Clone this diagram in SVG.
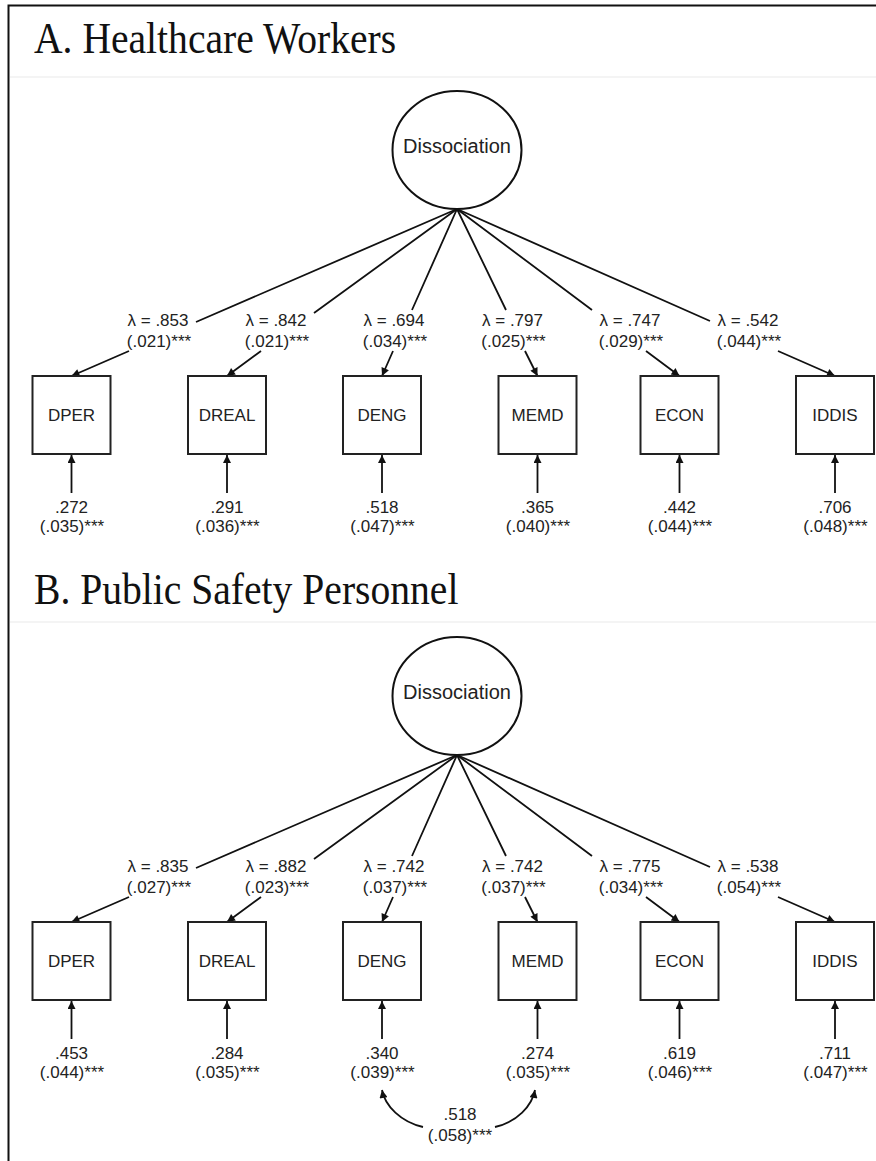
<svg xmlns="http://www.w3.org/2000/svg" width="876" height="1161" viewBox="0 0 876 1161">
<style>
.hdr{font-family:"Liberation Serif","Times New Roman",serif;font-size:44px;fill:#111}
.t{font-family:"Liberation Sans",Arial,sans-serif;font-size:17px;fill:#222;text-anchor:middle}
.lat{font-family:"Liberation Sans",Arial,sans-serif;font-size:20px;fill:#222;text-anchor:middle}
.box{fill:#fff;stroke:#222;stroke-width:2}
.ell{fill:#fff;stroke:#111;stroke-width:2}
.c{fill:none;stroke:#111;stroke-width:1.8}
.sep{stroke:#f0f0f0;stroke-width:1.5}
</style>
<defs>
<marker id="ah" viewBox="0 0 10 10" refX="10" refY="5" markerWidth="10" markerHeight="8" markerUnits="userSpaceOnUse" orient="auto-start-reverse"><path d="M0,0 L10,5 L0,10 z" fill="#111"/></marker>
</defs>
<rect width="876" height="1161" fill="#fff"/>
<path d="M8.5,1161 V5.5 H876" fill="none" stroke="#111" stroke-width="2"/>
<line class="sep" x1="10" y1="77" x2="876" y2="77"/>
<line class="sep" x1="10" y1="622" x2="876" y2="622"/>
<text class="hdr" transform="translate(34,53) scale(0.9,1)">A. Healthcare Workers</text>
<text class="hdr" transform="translate(34,604) scale(0.9,1)">B. Public Safety Personnel</text>

<g id="connectors">
<g id="connA">
<path class="c" marker-end="url(#ah)" d="M457,209 L196,322 M129,351 L71.5,376"/>
<path class="c" marker-end="url(#ah)" d="M457,209 L314,313 M261,351 L227,376"/>
<path class="c" marker-end="url(#ah)" d="M457,209 L412,310 M393,351 L382,376"/>
<path class="c" marker-end="url(#ah)" d="M457,209 L506,310 M525,351 L537.5,376"/>
<path class="c" marker-end="url(#ah)" d="M457,209 L592,310 M646,351 L679.5,376"/>
<path class="c" marker-end="url(#ah)" d="M457,209 L710,321 M778,351 L835,376"/>
<path class="c" marker-end="url(#ah)" d="M71.5,493 V455"/>
<path class="c" marker-end="url(#ah)" d="M227,493 V455"/>
<path class="c" marker-end="url(#ah)" d="M382,493 V455"/>
<path class="c" marker-end="url(#ah)" d="M537.5,493 V455"/>
<path class="c" marker-end="url(#ah)" d="M679.5,493 V455"/>
<path class="c" marker-end="url(#ah)" d="M835,493 V455"/>
</g>
<g id="connB" transform="translate(0,546)">
<path class="c" marker-end="url(#ah)" d="M457,209 L196,322 M129,351 L71.5,376"/>
<path class="c" marker-end="url(#ah)" d="M457,209 L314,313 M261,351 L227,376"/>
<path class="c" marker-end="url(#ah)" d="M457,209 L412,310 M393,351 L382,376"/>
<path class="c" marker-end="url(#ah)" d="M457,209 L506,310 M525,351 L537.5,376"/>
<path class="c" marker-end="url(#ah)" d="M457,209 L592,310 M646,351 L679.5,376"/>
<path class="c" marker-end="url(#ah)" d="M457,209 L710,321 M778,351 L835,376"/>
<path class="c" marker-end="url(#ah)" d="M71.5,493 V455"/>
<path class="c" marker-end="url(#ah)" d="M227,493 V455"/>
<path class="c" marker-end="url(#ah)" d="M382,493 V455"/>
<path class="c" marker-end="url(#ah)" d="M537.5,493 V455"/>
<path class="c" marker-end="url(#ah)" d="M679.5,493 V455"/>
<path class="c" marker-end="url(#ah)" d="M835,493 V455"/>
</g>
<path id="covB" class="c" marker-start="url(#ah)" marker-end="url(#ah)" d="M382,1090 C385,1106 401,1122 423,1127 M495,1127 C517,1122 532,1106 535,1090"/>
</g>

<g id="A">
<g id="A-dissociation"><ellipse class="ell" cx="457" cy="150" rx="64.5" ry="59"/><text class="lat" x="457" y="153">Dissociation</text></g>
<g id="A-DPER"><rect class="box" x="32.5" y="376" width="78" height="78"/><text class="t" x="71.5" y="421">DPER</text></g>
<g id="A-DREAL"><rect class="box" x="188" y="376" width="78" height="78"/><text class="t" x="227" y="421">DREAL</text></g>
<g id="A-DENG"><rect class="box" x="343" y="376" width="78" height="78"/><text class="t" x="382" y="421">DENG</text></g>
<g id="A-MEMD"><rect class="box" x="498.5" y="376" width="78" height="78"/><text class="t" x="537.5" y="421">MEMD</text></g>
<g id="A-ECON"><rect class="box" x="640.5" y="376" width="78" height="78"/><text class="t" x="679.5" y="421">ECON</text></g>
<g id="A-IDDIS"><rect class="box" x="796" y="376" width="78" height="78"/><text class="t" x="835" y="421">IDDIS</text></g>
<g id="A-loadings">
<text class="t" x="158" y="326">λ = .853</text><text class="t" x="159" y="347">(.021)***</text>
<text class="t" x="276" y="326">λ = .842</text><text class="t" x="277" y="347">(.021)***</text>
<text class="t" x="394" y="326">λ = .694</text><text class="t" x="395" y="347">(.034)***</text>
<text class="t" x="512.5" y="326">λ = .797</text><text class="t" x="513.5" y="347">(.025)***</text>
<text class="t" x="630" y="326">λ = .747</text><text class="t" x="631" y="347">(.029)***</text>
<text class="t" x="748" y="326">λ = .542</text><text class="t" x="749" y="347">(.044)***</text>
</g>
<g id="A-residuals">
<text class="t" x="71.5" y="513">.272</text><text class="t" x="72" y="532">(.035)***</text>
<text class="t" x="227" y="513">.291</text><text class="t" x="227.5" y="532">(.036)***</text>
<text class="t" x="382" y="513">.518</text><text class="t" x="382.5" y="532">(.047)***</text>
<text class="t" x="537.5" y="513">.365</text><text class="t" x="538" y="532">(.040)***</text>
<text class="t" x="679.5" y="513">.442</text><text class="t" x="680" y="532">(.044)***</text>
<text class="t" x="835" y="513">.706</text><text class="t" x="835.5" y="532">(.048)***</text>
</g>
</g>

<g id="B" transform="translate(0,546)">
<g id="B-dissociation"><ellipse class="ell" cx="457" cy="150" rx="64.5" ry="59"/><text class="lat" x="457" y="153">Dissociation</text></g>
<g id="B-DPER"><rect class="box" x="32.5" y="376" width="78" height="78"/><text class="t" x="71.5" y="421">DPER</text></g>
<g id="B-DREAL"><rect class="box" x="188" y="376" width="78" height="78"/><text class="t" x="227" y="421">DREAL</text></g>
<g id="B-DENG"><rect class="box" x="343" y="376" width="78" height="78"/><text class="t" x="382" y="421">DENG</text></g>
<g id="B-MEMD"><rect class="box" x="498.5" y="376" width="78" height="78"/><text class="t" x="537.5" y="421">MEMD</text></g>
<g id="B-ECON"><rect class="box" x="640.5" y="376" width="78" height="78"/><text class="t" x="679.5" y="421">ECON</text></g>
<g id="B-IDDIS"><rect class="box" x="796" y="376" width="78" height="78"/><text class="t" x="835" y="421">IDDIS</text></g>
<g id="B-loadings">
<text class="t" x="158" y="326">λ = .835</text><text class="t" x="159" y="347">(.027)***</text>
<text class="t" x="276" y="326">λ = .882</text><text class="t" x="277" y="347">(.023)***</text>
<text class="t" x="394" y="326">λ = .742</text><text class="t" x="395" y="347">(.037)***</text>
<text class="t" x="512.5" y="326">λ = .742</text><text class="t" x="513.5" y="347">(.037)***</text>
<text class="t" x="630" y="326">λ = .775</text><text class="t" x="631" y="347">(.034)***</text>
<text class="t" x="748" y="326">λ = .538</text><text class="t" x="749" y="347">(.054)***</text>
</g>
<g id="B-residuals">
<text class="t" x="71.5" y="513">.453</text><text class="t" x="72" y="532">(.044)***</text>
<text class="t" x="227" y="513">.284</text><text class="t" x="227.5" y="532">(.035)***</text>
<text class="t" x="382" y="513">.340</text><text class="t" x="382.5" y="532">(.039)***</text>
<text class="t" x="537.5" y="513">.274</text><text class="t" x="538" y="532">(.035)***</text>
<text class="t" x="679.5" y="513">.619</text><text class="t" x="680" y="532">(.046)***</text>
<text class="t" x="835" y="513">.711</text><text class="t" x="835.5" y="532">(.047)***</text>
</g>
</g>
<g id="B-covariance"><text class="t" x="460" y="1120">.518</text><text class="t" x="460" y="1141">(.058)***</text></g>
</svg>
